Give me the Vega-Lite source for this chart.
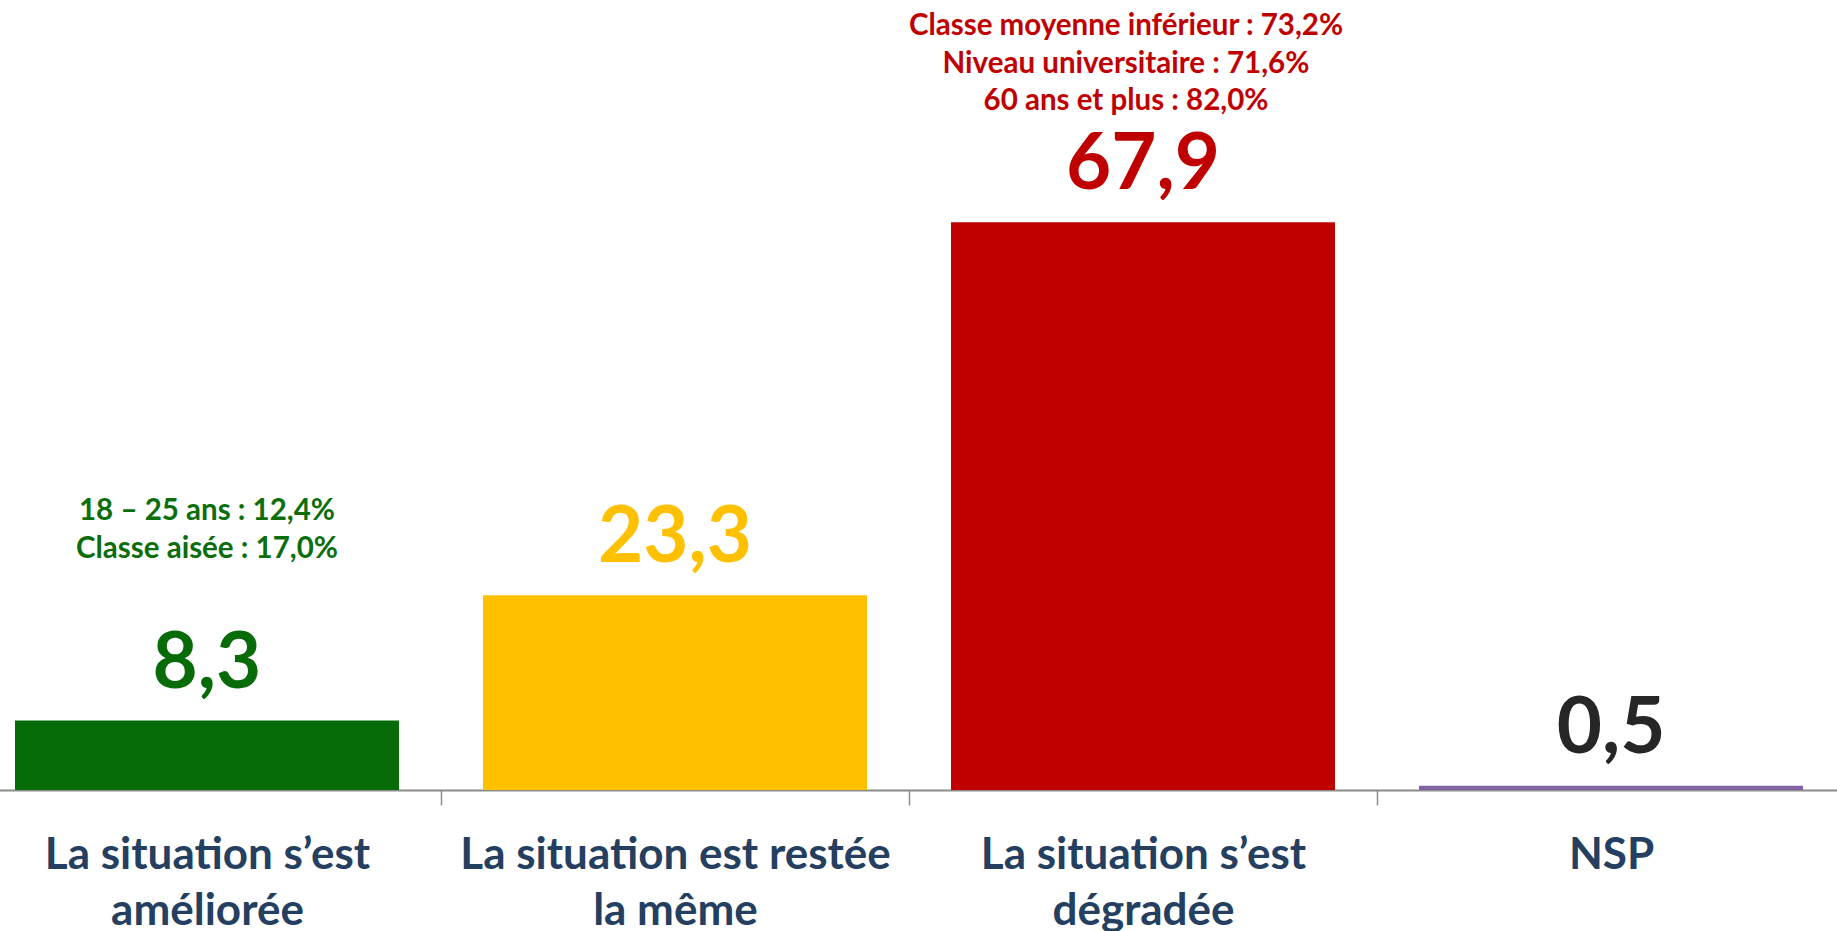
{
  "$schema": "https://vega.github.io/schema/vega-lite/v6.json",
  "width": 1837,
  "height": 790,
  "autosize": {"type": "none"},
  "padding": {"left": 0, "right": 0, "top": 0, "bottom": 141},
  "background": "white",
  "config": {"view": {"stroke": null}, "font": "Lato"},
  "data": {
    "values": [
      {"cat": "La situation s’est\naméliorée", "value": 8.3, "label": "8,3", "note": "18 – 25 ans : 12,4%\nClasse aisée : 17,0%"},
      {"cat": "La situation est restée\nla même", "value": 23.3, "label": "23,3", "note": ""},
      {"cat": "La situation s’est\ndégradée", "value": 67.9, "label": "67,9", "note": "Classe moyenne inférieur : 73,2%\nNiveau universitaire : 71,6%\n60 ans et plus : 82,0%"},
      {"cat": "NSP", "value": 0.5, "label": "0,5", "note": ""}
    ]
  },
  "encoding": {
    "x": {
      "field": "cat", "type": "nominal", "sort": null,
      "scale": {"range": [-27, 1845], "paddingInner": 0.1795, "paddingOuter": 0.0897},
      "axis": {
        "title": null,
        "labelExpr": "split(datum.label, '\\n')",
        "labelFont": "Lato", "labelFontSize": 44, "labelFontWeight": "bold",
        "labelColor": "#243F60", "labelLimit": 600, "labelLineHeight": 56,
        "labelPadding": 28, "labelAngle": 0, "labelOffset": -234,
        "tickOffset": 234, "tickSize": 15, "tickColor": "#8C8C8C", "tickWidth": 1.5,
        "domainColor": "#8C8C8C", "domainWidth": 2, "grid": false
      }
    },
    "y": {
      "field": "value", "type": "quantitative",
      "scale": {"domain": [0, 94.5], "nice": false, "zero": true},
      "axis": null
    }
  },
  "layer": [
    {
      "mark": {"type": "bar"},
      "encoding": {
        "color": {
          "field": "cat", "type": "nominal", "sort": null, "legend": null,
          "scale": {"range": ["#076B08", "#FFC000", "#C00000", "#8064A2"]}
        }
      }
    },
    {
      "mark": {"type": "text", "baseline": "alphabetic", "align": "center", "dy": -33, "font": "Lato", "fontSize": 78, "fontWeight": "bold"},
      "encoding": {
        "text": {"field": "label"},
        "color": {
          "field": "cat", "type": "nominal", "sort": null, "legend": null,
          "scale": {"range": ["#076B08", "#FFC000", "#C00000", "#262626"]}
        }
      }
    },
    {
      "transform": [{"filter": "indexof(datum.cat, 'amélior') >= 0"}],
      "mark": {"type": "text", "baseline": "alphabetic", "align": "center", "dy": -201, "lineBreak": "\n", "lineHeight": 38, "font": "Lato", "fontSize": 29.5, "fontWeight": "bold", "color": "#0B6E0B"},
      "encoding": {"text": {"field": "note"}}
    },
    {
      "transform": [{"filter": "indexof(datum.cat, 'dégrad') >= 0"}],
      "mark": {"type": "text", "baseline": "alphabetic", "align": "center", "dx": -17, "dy": -187, "lineBreak": "\n", "lineHeight": 37.5, "font": "Lato", "fontSize": 29.5, "fontWeight": "bold", "color": "#C00000"},
      "encoding": {"text": {"field": "note"}}
    }
  ],
  "resolve": {"scale": {"color": "independent"}}
}
